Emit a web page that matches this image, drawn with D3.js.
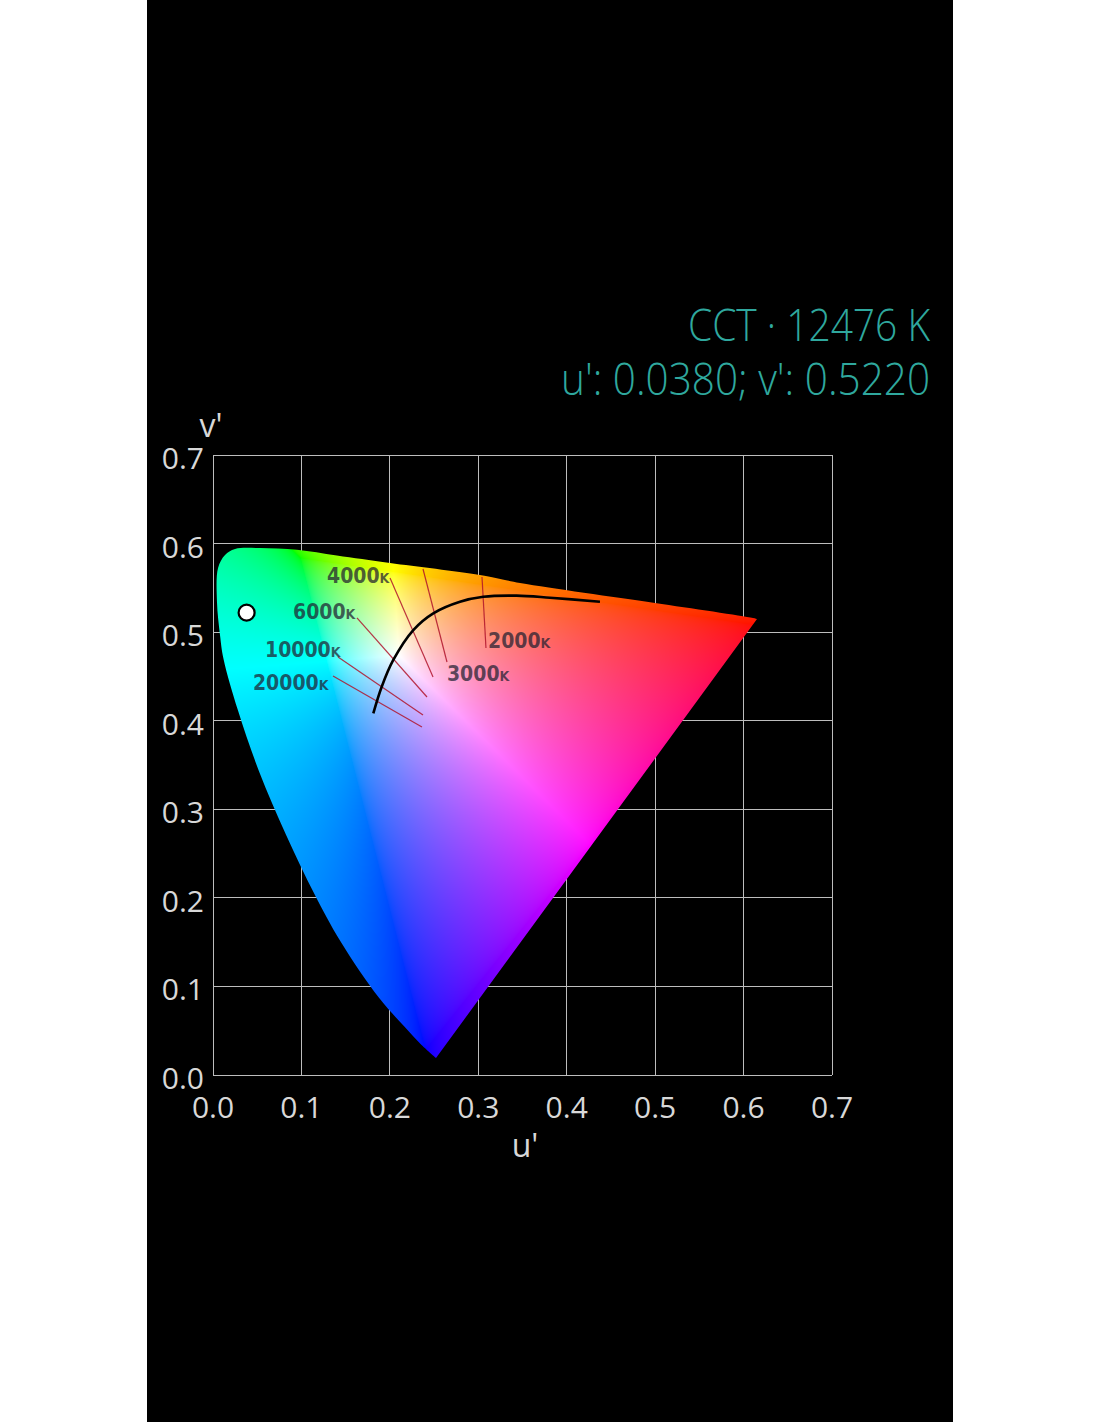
<!DOCTYPE html>
<html>
<head>
<meta charset="utf-8">
<script src="https://cdn.jsdelivr.net/npm/d3@7"></script>
<style>
  body { margin: 0; background: #fff; }
  svg { display: block; }
</style>
</head>
<body>
<div id="vis"></div>
<script>
// chart values
var cct = 12476;
var pointU = [0.0380];
var pointV = [0.5220];

// spectral locus outline (u', v'), blue tip round to the red corner
var locusU = [0.2522, 0.2347, 0.2161, 0.1877, 0.1441, 0.1147, 0.0828, 0.0521, 0.0282, 0.0119,
  0.0079, 0.0045, 0.0057, 0.0136, 0.0249, 0.0532, 0.0950, 0.1400, 0.2002, 0.3019, 0.3472,
  0.4998, 0.6107, 0.6152];
var locusV = [0.0192, 0.0350, 0.0549, 0.0871, 0.1510, 0.2044, 0.2708, 0.3427, 0.4117, 0.4698,
  0.4968, 0.5340, 0.5724, 0.5871, 0.5939, 0.5950, 0.5930, 0.5865, 0.5781, 0.5645, 0.5555,
  0.5329, 0.5160, 0.5148];

// planckian locus
var planckU = [0.1813, 0.1908, 0.2039, 0.2265, 0.2491, 0.2793, 0.3057, 0.3434, 0.3811, 0.4376];
var planckV = [0.4084, 0.4384, 0.4686, 0.5024, 0.5213, 0.5344, 0.5400, 0.5412, 0.5389, 0.5344];

// isotemperature lines
var isoTemps = ['2000', '3000', '4000', '6000', '10000', '20000'];
var isoU1 = [0.3042, 0.2375, 0.2002, 0.1628, 0.1414, 0.1357];
var isoV1 = [0.5623, 0.5713, 0.5611, 0.5160, 0.4719, 0.4505];
var isoU2 = [0.3087, 0.2646, 0.2488, 0.2420, 0.2375, 0.2363];
var isoV2 = [0.4821, 0.4663, 0.4494, 0.4268, 0.4065, 0.3929];
var isoLabelU = [0.3110, 0.2646, 0.1289, 0.0905, 0.0588, 0.0452];
var isoLabelV = [0.4821, 0.4448, 0.5555, 0.5148, 0.4719, 0.4347];

var ticks = [0, 0.1, 0.2, 0.3, 0.4, 0.5, 0.6, 0.7];

var width = 1100;
var height = 1422;

var x = d3.scaleLinear().domain([0, 0.7]).range([213, 832]);
var y = d3.scaleLinear().domain([0, 0.7]).range([1075, 455]);

var svg = d3.select('#vis').append('svg')
  .attr('width', width)
  .attr('height', height);

svg.append('rect')
  .attr('x', 147).attr('y', 0)
  .attr('width', 806).attr('height', height)
  .attr('fill', '#000');

// grid
var grid = svg.append('g').attr('stroke', '#bdbdbd').attr('stroke-width', 1).attr('shape-rendering', 'crispEdges');
grid.selectAll('.gx').data(ticks).enter().append('line')
  .attr('x1', function (d) { return x(d); }).attr('x2', function (d) { return x(d); })
  .attr('y1', y(0)).attr('y2', y(0.7));
grid.selectAll('.gy').data(ticks).enter().append('line')
  .attr('y1', function (d) { return y(d); }).attr('y2', function (d) { return y(d); })
  .attr('x1', x(0)).attr('x2', x(0.7));

// tick labels
var tickFont = 'Open Sans, sans-serif';
svg.selectAll('.xl').data(ticks).enter().append('text')
  .attr('x', function (d) { return x(d); })
  .attr('y', 1118)
  .attr('text-anchor', 'middle')
  .attr('font-family', tickFont).attr('font-size', 30).attr('fill', '#d8d8d8')
  .text(function (d) { return d.toFixed(1); });
svg.selectAll('.yl').data(ticks).enter().append('text')
  .attr('x', 204)
  .attr('y', function (d) { return y(d) + 14; })
  .attr('text-anchor', 'end')
  .attr('font-family', tickFont).attr('font-size', 30).attr('fill', '#d8d8d8')
  .text(function (d) { return d.toFixed(1); });

svg.append('text').attr('x', 525).attr('y', 1157).attr('text-anchor', 'middle')
  .attr('font-family', tickFont).attr('font-size', 32).attr('fill', '#d8d8d8').text("u'");
svg.append('text').attr('x', 211).attr('y', 437).attr('text-anchor', 'middle')
  .attr('font-family', tickFont).attr('font-size', 32).attr('fill', '#d8d8d8').text("v'");

// colour of a chromaticity point in CIE RGB (primaries on the locus), clipped by adding white
function uvColor(u, v) {
  var d = 6 * u - 16 * v + 12;
  var cx = 9 * u / d, cy = 4 * v / d;
  var X = cx / cy, Y = 1, Z = (1 - cx - cy) / cy;
  var r = 2.3646 * X - 0.8965 * Y - 0.4681 * Z;
  var g = -0.5152 * X + 1.4264 * Y + 0.0888 * Z;
  var b = 0.0052 * X - 0.0144 * Y + 1.0092 * Z;
  var m = Math.min(r, g, b);
  if (m < 0) { r -= m; g -= m; b -= m; }
  var M = Math.max(r, g, b);
  return [r / M, g / M, b / M].map(function (c) {
    c = Math.pow(Math.max(0, c), 1 / 1.8);
    return Math.round(Math.min(1, c) * 255);
  });
}

var pw = x(0.7) - x(0), ph = y(0) - y(0.7);
var canvas = document.createElement('canvas');
canvas.width = pw; canvas.height = ph;
var ctx = canvas.getContext('2d');
var img = ctx.createImageData(pw, ph);
for (var j = 0; j < ph; j++) {
  var v = y.invert(y(0.7) + j + 0.5);
  for (var i = 0; i < pw; i++) {
    var u = x.invert(x(0) + i + 0.5);
    var c = uvColor(u, v);
    var k = (j * pw + i) * 4;
    img.data[k] = c[0]; img.data[k + 1] = c[1]; img.data[k + 2] = c[2]; img.data[k + 3] = 255;
  }
}
ctx.putImageData(img, 0, 0);

// smooth spectral edge, straight purple line back to the tip
var locus = locusU.map(function (d, i) { return [d, locusV[i]]; });
var locusLine = d3.line()
  .x(function (d) { return x(d[0]); })
  .y(function (d) { return y(d[1]); })
  .curve(d3.curveCatmullRom);

svg.append('clipPath').attr('id', 'locus-clip')
  .append('path').attr('d', locusLine(locus) + 'Z');

svg.append('image')
  .attr('x', x(0)).attr('y', y(0.7))
  .attr('width', pw).attr('height', ph)
  .attr('preserveAspectRatio', 'none')
  .attr('href', canvas.toDataURL())
  .attr('clip-path', 'url(#locus-clip)');

// isotemperature lines
svg.selectAll('.iso').data(isoTemps).enter().append('line')
  .attr('x1', function (d, i) { return x(isoU1[i]); })
  .attr('y1', function (d, i) { return y(isoV1[i]); })
  .attr('x2', function (d, i) { return x(isoU2[i]); })
  .attr('y2', function (d, i) { return y(isoV2[i]); })
  .attr('stroke', '#b0142c').attr('stroke-opacity', 0.85).attr('stroke-width', 1.2);

var isoText = svg.selectAll('.isolabel').data(isoTemps).enter().append('text')
  .attr('x', function (d, i) { return x(isoLabelU[i]); })
  .attr('y', function (d, i) { return y(isoLabelV[i]); })
  .attr('font-family', 'DejaVu Sans Condensed, DejaVu Sans, sans-serif')
  .attr('font-weight', 'bold')
  .attr('font-size', 21)
  .attr('fill', '#202030').attr('fill-opacity', 0.72);
isoText.append('tspan').text(function (d) { return d; });
isoText.append('tspan').attr('font-size', 14).text('K');

// planckian locus
var planck = planckU.map(function (d, i) { return [d, planckV[i]]; });
svg.append('path')
  .attr('d', d3.line()
    .x(function (d) { return x(d[0]); })
    .y(function (d) { return y(d[1]); })
    .curve(d3.curveCatmullRom)(planck))
  .attr('fill', 'none').attr('stroke', '#000').attr('stroke-width', 2.6);

// measured point
svg.selectAll('.pt').data(pointU).enter().append('circle')
  .attr('cx', function (d) { return x(d); })
  .attr('cy', function (d, i) { return y(pointV[i]); })
  .attr('r', 8)
  .attr('fill', '#fff').attr('stroke', '#000').attr('stroke-width', 2.2);

// header
svg.append('text').attr('x', 930).attr('y', 341).attr('text-anchor', 'end')
  .attr('font-family', 'Open Sans, sans-serif').attr('font-weight', 300)
  .attr('font-size', 44).attr('fill', '#2fa89e')
  .attr('textLength', 242).attr('lengthAdjust', 'spacingAndGlyphs')
  .text('CCT \u00b7 ' + cct + ' K');
svg.append('text').attr('x', 930).attr('y', 395).attr('text-anchor', 'end')
  .attr('font-family', 'Open Sans, sans-serif').attr('font-weight', 300)
  .attr('font-size', 44).attr('fill', '#2fa89e')
  .attr('textLength', 369).attr('lengthAdjust', 'spacingAndGlyphs')
  .text("u': " + pointU[0].toFixed(4) + "; v': " + pointV[0].toFixed(4));
</script>
</body>
</html>
